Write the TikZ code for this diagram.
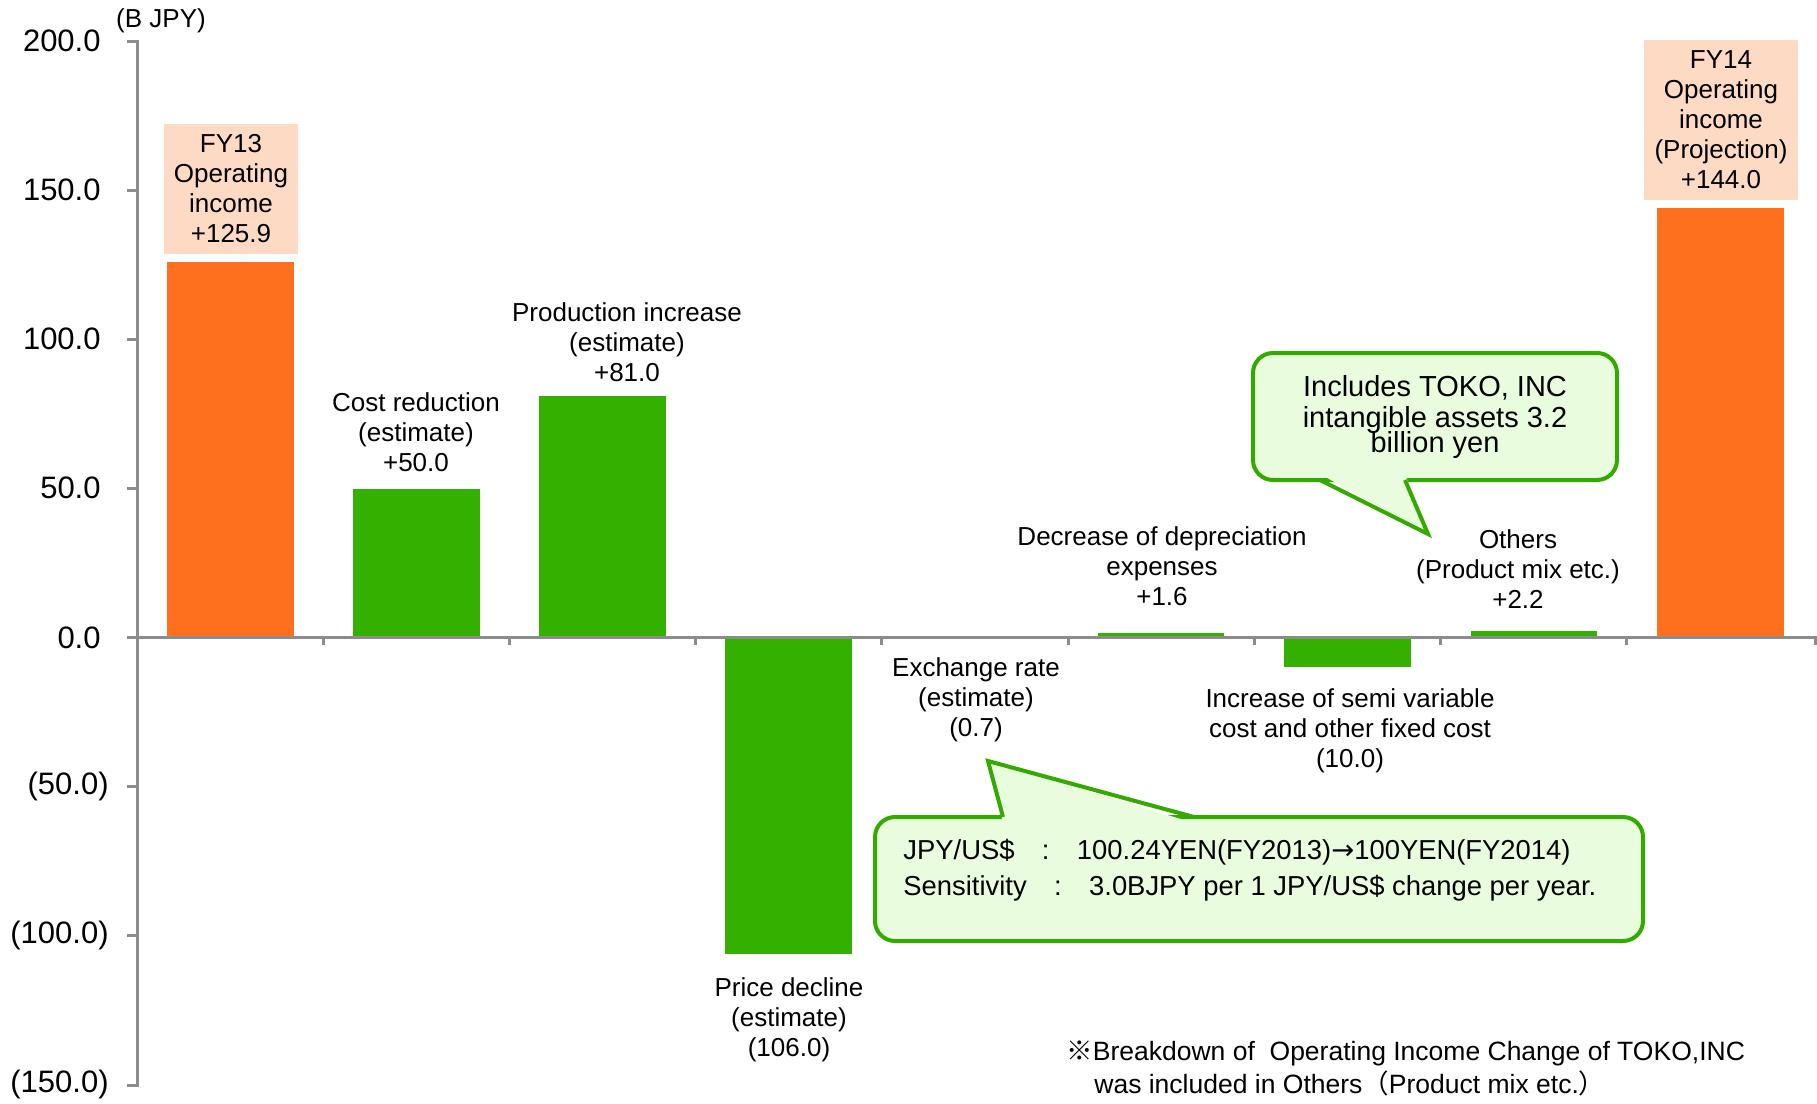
\documentclass[tikz,border=0pt]{standalone}
\usepackage{fontspec}
\setmainfont{Liberation Sans}
\newfontfamily\cjk{Noto Sans CJK JP}
\newfontfamily\symb{DejaVu Sans}
\usetikzlibrary{positioning}

\definecolor{barorange}{RGB}{255,112,30}
\definecolor{bargreen}{RGB}{51,176,0}
\definecolor{labelpeach}{RGB}{253,218,196}
\definecolor{notefill}{RGB}{234,252,222}
\definecolor{noteline}{RGB}{51,170,0}
\definecolor{axisgray}{RGB}{140,140,140}

\begin{document}
\begin{tikzpicture}[x=0.5pt,y=-0.5pt,
		barlabel/.style={align=center, font=\fontsize{13}{15}\selectfont, inner sep=0pt},
		ticklabel/.style={anchor=east, font=\fontsize{15.5}{18}\selectfont, inner sep=0pt},
		notebox/.style={draw=noteline, line width=2pt, fill=notefill, rounded corners=10pt},
		axisline/.style={draw=axisgray, line width=1.5pt}]
			
			\useasboundingbox (0,0) rectangle (1817,1104);
			
			% Draw the bars
			\fill[barorange] (167,262) rectangle (294,637.6);
			\fill[bargreen] (353,488.5) rectangle (480,637.6);
			\fill[bargreen] (539,396) rectangle (666,637.6);
			\fill[bargreen] (725,637.6) rectangle (852,953.8);
			\fill[bargreen] (912,637.6) rectangle (1038,639);
			\fill[bargreen] (1098,632.8) rectangle (1224,637.6);
			\fill[bargreen] (1284,637.6) rectangle (1411,667.4);
			\fill[bargreen] (1471,631) rectangle (1597,637.6);
			\fill[barorange] (1657,208) rectangle (1784,637.6);
			
			% Draw the axes
			\draw[axisline] (127,41) -- (137,41) -- (137,1085) -- (127,1085);
			\foreach \ty in {190.1,339.2,488.3,637.6,786.5,935.6}
				\draw[axisline] (127,\ty) -- (137,\ty);
			\draw[axisline] (137,637.6) -- (1815,637.6) -- (1815,645);
			\foreach \tx in {323.2,509.4,695.6,881.8,1068,1254.2,1440.4,1626.6}
				\draw[axisline] (\tx,637.6) -- (\tx,645);
			
			% Labels for the axis
			\node[barlabel] (unit) at (161,21) {(B JPY)};
			\node[ticklabel] (t200) at (101,41) {200.0};
			\node[ticklabel] (t150) at (101,190.1) {150.0};
			\node[ticklabel] (t100) at (101,339.2) {100.0};
			\node[ticklabel] (t50) at (101,488.3) {50.0};
			\node[ticklabel] (t0) at (101,637.6) {0.0};
			\node[ticklabel] (tm50) at (109,786.5) {(50.0)};
			\node[ticklabel] (tm100) at (109,935.6) {(100.0)};
			\node[ticklabel] (tm150) at (109,1084.7) {(150.0)};
			
			% Labels for the bars
			\node[barlabel, fill=labelpeach, minimum width=67pt, minimum height=65pt] (fy13) at (231,189) {FY13\\Operating\\income\\+125.9};
			\node[barlabel, fill=labelpeach, minimum width=77pt, minimum height=80pt] (fy14) at (1721,120) {FY14\\Operating\\income\\(Projection)\\+144.0};
			\node[barlabel] (cost) at (416,432) {Cost reduction\\(estimate)\\+50.0};
			\node[barlabel] (prod) at (627,342) {Production increase\\(estimate)\\+81.0};
			\node[barlabel] (price) at (789,1020) {Price decline\\(estimate)\\(106.0)};
			\node[barlabel] (rate) at (976,700) {Exchange rate\\(estimate)\\(0.7)};
			\node[barlabel] (depr) at (1162,566.6) {Decrease of depreciation\\expenses\\+1.6};
			\node[barlabel] (semi) at (1350,731) {Increase of semi variable\\cost and other fixed cost\\(10.0)};
			\node[barlabel] (others) at (1518,569) {Others\\(Product mix etc.)\\+2.2};
			
			% Callout on TOKO, INC
			\node[notebox, minimum width=182pt, minimum height=63.5pt, font=\fontsize{14.5}{15.5}\selectfont, align=center] (tokonote) at (1435,416.5) {Includes TOKO, INC\\intangible assets 3.2\\[-3pt]billion yen};
			\coordinate (tokotip) at (1428,534);
			\fill[notefill] (1320,474) -- (tokotip) -- (1405,474) -- cycle;
			\draw[noteline, line width=2pt, line join=miter] (1320,480) -- (tokotip) -- (1405,480);
			
			% Callout on the exchange rate
			\node[notebox, minimum width=384pt, minimum height=62pt] (ratenote) at (1259,879) {};
			\coordinate (ratetip) at (988,761);
			\fill[notefill] (1003,823) -- (ratetip) -- (1194,823) -- cycle;
			\draw[noteline, line width=2pt, line join=miter] (1003,817) -- (ratetip) -- (1194,817);
			\node[anchor=west, align=left, inner sep=0pt, font=\fontsize{13.7}{18}\selectfont] (ratetext) at (903,870) {JPY/US\$\quad:\quad100.24YEN(FY2013){\symb →}100YEN(FY2014)\\Sensitivity\quad:\quad3.0BJPY per 1 JPY/US\$ change per year.};
			
			% Footnote
			\node[anchor=west, inner sep=0pt, font=\fontsize{13.25}{15}\selectfont] (foot1) at (1066,1053) {{\cjk ※}Breakdown of\ \ Operating Income Change of TOKO,INC};
			\node[anchor=west, inner sep=0pt, font=\fontsize{13.25}{15}\selectfont] (foot2) at (1094,1083) {was included in Others{\cjk （}Product mix etc.{\cjk ）}};
	\end{tikzpicture}
\end{document}
